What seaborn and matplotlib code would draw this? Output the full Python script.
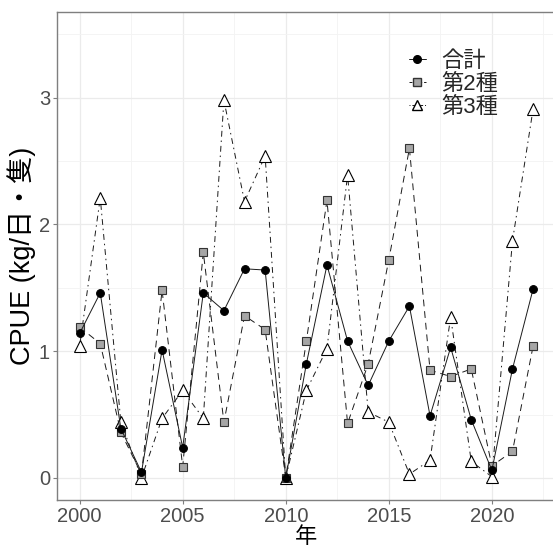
import numpy as np
import pandas as pd
import matplotlib
matplotlib.use("Agg")
import matplotlib.pyplot as plt
import seaborn as sns
from matplotlib.lines import Line2D

# data
years = list(range(2000, 2023))
total = [1.14, 1.46, 0.39, 0.045, 1.01, 0.24, 1.46, 1.32, 1.65, 1.64, 0.0,
         0.90, 1.68, 1.08, 0.73, 1.08, 1.355, 0.49, 1.03, 0.46, 0.06, 0.86, 1.49]
type2 = [1.19, 1.06, 0.36, 0.03, 1.48, 0.09, 1.78, 0.44, 1.28, 1.17, 0.0,
         1.08, 2.19, 0.43, 0.90, 1.72, 2.60, 0.85, 0.80, 0.86, 0.095, 0.21, 1.04]
type3 = [1.04, 2.21, 0.44, 0.0, 0.47, 0.69, 0.47, 2.98, 2.18, 2.54, 0.0,
         0.69, 1.02, 2.39, 0.52, 0.44, 0.03, 0.14, 1.27, 0.13, 0.01, 1.87, 2.91]
labels = ["合計", "第2種", "第3種"]

df = pd.DataFrame({"年": years, "合計": total, "第2種": type2, "第3種": type3})

sns.set_style("white")
plt.rcParams['font.family'] = ['Liberation Sans', 'Noto Sans CJK JP', 'DejaVu Sans']

fig = plt.figure(figsize=(5.53, 5.49), dpi=100)
ax = fig.add_axes([0.103, 0.089, 0.902, 0.889])

line_col = "#1a1a1a"
# 合計: solid line with black dots
sns.lineplot(data=df, x="年", y="合計", ax=ax, color=line_col, lw=0.7,
             marker="o", markersize=5.6, markerfacecolor="black",
             markeredgecolor="black", zorder=5)
# 第2種: dashed line with gray squares
sns.lineplot(data=df, x="年", y="第2種", ax=ax, color=line_col, lw=0.7,
             marker="s", markersize=5.3, markerfacecolor="#a6a6a6",
             markeredgecolor="#333333", markeredgewidth=0.8, zorder=4)
ax.lines[-1].set_dashes((7, 5))
# 第3種: dot-dash line with open triangles
sns.lineplot(data=df, x="年", y="第3種", ax=ax, color=line_col, lw=0.7,
             marker="^", markersize=8.7, markerfacecolor="white",
             markeredgecolor="black", markeredgewidth=0.8, zorder=3)
ax.lines[-1].set_dashes((1.5, 4, 6, 4))

ax.set_xlim(1998.9, 2023.1)
ax.set_ylim(-0.175, 3.675)
ax.set_xticks([2000, 2005, 2010, 2015, 2020])
ax.set_yticks([0, 1, 2, 3])
ax.set_xticks(np.arange(2002.5, 2023, 5), minor=True)
ax.set_yticks([0.5, 1.5, 2.5, 3.5], minor=True)
ax.grid(True, which="major", color="#ebebeb", lw=0.9)
ax.grid(True, which="minor", color="#f3f3f3", lw=0.6)
ax.set_axisbelow(True)

for side in ["left", "bottom", "top", "right"]:
    ax.spines[side].set_color("#7f7f7f")
    ax.spines[side].set_linewidth(1.0)

ax.tick_params(axis="both", which="major", labelsize=14.5, labelcolor="#4d4d4d",
               color="#7f7f7f", length=3, width=0.8, pad=2, left=True, bottom=True)
ax.tick_params(axis="both", which="minor", length=0)

ax.set_xlabel("年", fontsize=16, color="black", labelpad=1)
ax.set_ylabel("CPUE (kg/日・隻)", fontsize=19.5, color="black", labelpad=2)

handles = [
    Line2D([], [], color=line_col, lw=0.7, marker="o", markersize=5.5,
           markerfacecolor="black", markeredgecolor="black"),
    Line2D([], [], color=line_col, lw=0.7, marker="s", markersize=5.5,
           markerfacecolor="#a6a6a6", markeredgecolor="#333333", dashes=(3, 2)),
    Line2D([], [], color=line_col, lw=0.7, marker="^", markersize=7,
           markerfacecolor="white", markeredgecolor="black", dashes=(1, 2, 3, 2)),
]
ax.legend(handles, labels, loc="upper left", bbox_to_anchor=(0.688, 0.938),
          frameon=False, fontsize=16, handlelength=0.75, handletextpad=0.7,
          labelspacing=0.08, borderaxespad=0)

fig.savefig("out.png", dpi=100)
